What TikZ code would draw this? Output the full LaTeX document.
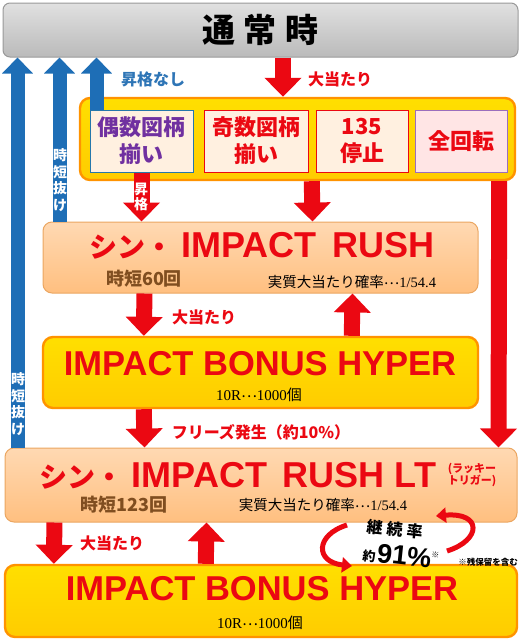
\documentclass[tikz,border=0pt]{standalone}
\usepackage{fontspec}
\newfontfamily\jp{Noto Sans CJK JP}
\newfontfamily\lat{Liberation Sans}
\newfontfamily\serifnum{Liberation Serif}
\usetikzlibrary{arrows.meta,calc}
\definecolor{hitred}{RGB}{235,8,18}
\definecolor{upblue}{RGB}{30,110,182}
\definecolor{lblue}{RGB}{46,117,182}
\definecolor{brownish}{RGB}{128,78,32}
\definecolor{evenpurple}{RGB}{112,48,160}

\begin{document}
\begin{tikzpicture}[x=1pt,y=-1pt,
    graybox/.style={
        rectangle,
        rounded corners=7pt,
        draw=black!40,
        line width=1pt,
        top color=black!12,
        bottom color=black!27,
        minimum width=515pt,
        minimum height=54pt
    },
    yellowbox/.style={
        rectangle,
        rounded corners=10pt,
        draw=orange!85!yellow,
        line width=2.4pt,
        top color=yellow!75!orange,
        bottom color=yellow!60!orange
    },
    peachbox/.style={
        rectangle,
        rounded corners=9pt,
        draw=orange!55!brown!70,
        line width=1pt,
        top color=orange!30!white,
        bottom color=orange!50!white
    },
    cell/.style={
        rectangle,
        draw=hitred,
        line width=1pt,
        fill=orange!12!white,
        minimum height=62pt,
        align=center,
        font=\jp\bfseries\fontsize{22}{27}\selectfont,
        text=hitred
    },
    redarrow/.style={
        draw=hitred,
        line width=16pt,
        -{Triangle[length=19pt,width=36pt]}
    },
    bluearrow/.style={
        draw=upblue,
        line width=14pt,
        -{Triangle[length=16pt,width=30pt]}
    },
    curvearrow/.style={
        draw=hitred,
        line width=5pt,
        -{Triangle[length=10pt,width=15pt]}
    },
    redlabel/.style={font=\jp\bfseries\fontsize{16}{16}\selectfont, text=hitred},
    barlabel/.style={font=\jp\bfseries\fontsize{14}{16.5}\selectfont, text=white, align=center, inner sep=0pt},
    title/.style={text=hitred, anchor=base, inner sep=0pt},
    subtext/.style={font=\jp\fontsize{14.5}{14.5}\selectfont},
    counttext/.style={font=\jp\bfseries\fontsize{18}{18}\selectfont, text=brownish}
]
\useasboundingbox (0,0) rectangle (523,640);

% Normal state
\node[graybox, font=\jp\bfseries\fontsize{33}{33}\selectfont] (normal) at (260.5,30)
    {通\hspace{9pt}常\hspace{9pt}時};

% Chance box with the four patterns
\node[yellowbox, minimum width=435pt, minimum height=82pt] (chance) at (297.5,139) {};
\node[cell, draw=lblue!80!teal, text=evenpurple, minimum width=103pt] (c1) at (141.5,141) {偶数図柄\\揃い};
\node[cell, minimum width=104pt] (c2) at (256,141) {奇数図柄\\揃い};
\node[cell, minimum width=92pt] (c3) at (362,141) {135\\停止};
\node[cell, draw=evenpurple!70, fill=red!10!white, minimum width=92pt] (c4) at (461,141) {全回転};

% RUSH
\node[peachbox, minimum width=435pt, minimum height=71pt] (rush) at (260.5,257.5) {};
\node[title] (rushtitle) at (262,257)
    {{\jp\bfseries\fontsize{28}{28}\selectfont シン・}\hspace{8pt}{\lat\bfseries\fontsize{36}{36}\selectfont IMPACT\hspace{6pt} RUSH}};
\node[counttext] (rushcount) at (144,279) {時短60回};
\node[subtext] (rushprob) at (352,282) {実質大当たり確率\raisebox{0.35ex}{…}{\serifnum 1/54.4}};

% HYPER (from RUSH)
\node[yellowbox, minimum width=435pt, minimum height=71pt] (hyper1) at (260.5,372.5) {};
\node[title, font=\lat\bfseries\fontsize{34.5}{34.5}\selectfont] (hyper1title) at (260,375) {IMPACT BONUS HYPER};
\node[subtext, font=\jp\fontsize{15}{15}\selectfont] (hyper1pay) at (259,395) {{\serifnum 10R}\raisebox{0.35ex}{…}{\serifnum 1000}個};

% RUSH LT
\node[peachbox, minimum width=512pt, minimum height=74pt] (lt) at (261,485) {};
\node[title] (lttitle) at (238,487)
    {{\jp\bfseries\fontsize{28}{28}\selectfont シン・}\hspace{8pt}{\lat\bfseries\fontsize{36}{36}\selectfont IMPACT\hspace{6pt} RUSH LT}};
\node[text=hitred, font=\jp\bfseries\fontsize{11}{12.5}\selectfont, align=center, inner sep=0pt] (lucky) at (472,475)
    {(ラッキー\\トリガー)};
\node[counttext] (ltcount) at (124,505) {時短123回};
\node[subtext] (ltprob) at (323,505) {実質大当たり確率\raisebox{0.35ex}{…}{\serifnum 1/54.4}};

% HYPER (from LT)
\node[yellowbox, minimum width=512pt, minimum height=72pt] (hyper2) at (261,601) {};
\node[title, font=\lat\bfseries\fontsize{34.5}{34.5}\selectfont] (hyper2title) at (262,600) {IMPACT BONUS HYPER};
\node[subtext, font=\jp\fontsize{15}{15}\selectfont] (hyper2pay) at (260,623) {{\serifnum 10R}\raisebox{0.35ex}{…}{\serifnum 1000}個};

% Blue arrows back to normal
\draw[bluearrow] ($(lt.north west)+(13,0)$) -- ($(normal.south west)+(15,0)$);
\draw[bluearrow] ($(rush.north west)+(17,0)$) -- ($(normal.south west)+(57,0)$);
\draw[bluearrow] ($(c1.north west)+(7,0)$) -- ($(normal.south west)+(94,0)$);
\node[barlabel] (jitan1) at (18,404) {時\\短\\抜\\け};
\node[barlabel] (jitan2) at (60,180) {時\\短\\抜\\け};
\node[font=\jp\bfseries\fontsize{16}{16}\selectfont, text=lblue] (noup) at (153,79) {昇格なし};

% Red arrows
\draw[redarrow] ($(normal.south)+(22.5,0)$) -- ($(chance.north)+(-14.5,0)$);
\node[redlabel] (hit1) at (340,79) {大当たり};
\draw[redarrow] (c1.south) -- (c1.south |- rush.north);
\node[barlabel, font=\jp\bfseries\fontsize{14}{15.5}\selectfont] (up) at (141,197) {昇\\格};
\draw[redarrow] ($(chance.south west)+(233,0)$) -- ($(rush.north west)+(270,0)$);
\draw[redarrow] ($(chance.south east)+(-17,0)$) -- ($(lt.north east)+(-19,0)$);

\draw[redarrow] ($(rush.south west)+(102,0)$) -- ($(hyper1.north west)+(102,0)$);
\node[redlabel] (hit2) at (204,317) {大当たり};
\draw[redarrow] ($(hyper1.north west)+(310,0)$) -- ($(rush.south west)+(310,0)$);

\draw[redarrow] ($(hyper1.south west)+(102,0)$) -- ($(lt.north west)+(140,0)$);
\node[redlabel] (freeze) at (261,432) {フリーズ発生（約10\%）};

\draw[redarrow] ($(lt.south west)+(50,0)$) -- ($(hyper2.north west)+(50,0)$);
\node[redlabel] (hit3) at (112,543) {大当たり};
\draw[redarrow] ($(hyper2.north west)+(202,0)$) -- ($(lt.south west)+(202,0)$);

% Continuation rate
\coordinate (loopa) at (347,525);
\coordinate (loopb) at (352,566);
\coordinate (loopc) at (447,551);
\coordinate (loopd) at (436,516);
\draw[curvearrow] (loopa) .. controls (315,535) and (315,562) .. (loopb);
\draw[curvearrow] (loopc) .. controls (482,540) and (482,512) .. (loopd);
\node[font=\jp\bfseries\fontsize{16}{16}\selectfont, rotate=-6, inner sep=0pt] (rate) at (395,529) {継\hspace{4pt}続\hspace{4pt}率};
\node[rotate=-6, inner sep=0pt] (ratenum) at (401,556)
    {{\jp\bfseries\fontsize{13}{13}\selectfont 約}\hspace{1.5pt}{\lat\bfseries\fontsize{27}{27}\selectfont 91\%}\raisebox{10pt}{\jp\fontsize{8}{8}\selectfont ※}};
\node[font=\jp\bfseries\fontsize{8.5}{8.5}\selectfont] (note) at (488,562) {※残保留を含む};

\end{tikzpicture}
\end{document}
